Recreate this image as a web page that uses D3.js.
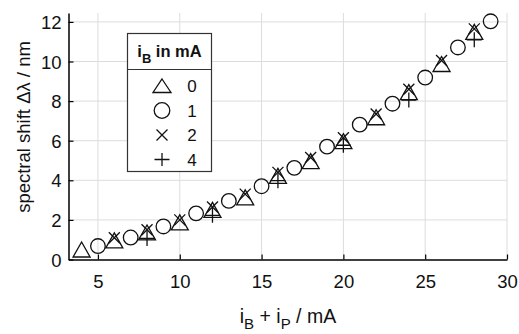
<!DOCTYPE html>
<html>
<head>
<meta charset="utf-8">
<script src="https://cdn.jsdelivr.net/npm/d3@7"></script>
<style>
  body { margin: 0; background: #fff; }
  svg { font-family: "Liberation Sans", Arial, sans-serif; }
</style>
</head>
<body>
<div id="chart"></div>
<script>
// data
const xTri = [4, 6, 8, 10, 12, 14, 16, 18, 20, 22, 24, 26, 28]
const yTri = [0.48, 0.94, 1.34, 1.85, 2.48, 3.11, 4.2, 4.94, 5.95, 7.16, 8.43, 9.85, 11.47]

const xCirc = [5, 7, 9, 11, 13, 15, 17, 19, 21, 23, 25, 27, 29]
const yCirc = [0.68, 1.11, 1.67, 2.33, 2.96, 3.7, 4.63, 5.7, 6.81, 7.87, 9.19, 10.71, 12.03]

const xCross = [6, 8, 10, 12, 14, 16, 18, 20, 22, 24, 26, 28]
const yCross = [1.1, 1.5, 2.0, 2.65, 3.3, 4.4, 5.15, 6.15, 7.35, 8.6, 10.05, 11.65]

const xPlus = [8, 12, 16, 20, 24, 28]
const yPlus = [1.06, 2.23, 3.98, 5.77, 8.05, 11.1]

const xTicks = [5, 10, 15, 20, 25, 30]
const yTicks = [0, 2, 4, 6, 8, 10, 12]
const legendLabels = ['0', '1', '2', '4']

const WIDTH = 519
const HEIGHT = 334

const svg = d3.select('#chart')
  .append('svg')
  .attr('width', WIDTH)
  .attr('height', HEIGHT)

const xScale = d3.scaleLinear().domain([3.2, 30]).range([68.5, 507])
const yScale = d3.scaleLinear().domain([0, 12.45]).range([259.5, 13])

// grid
svg.append('g')
  .selectAll('line')
  .data(xTicks)
  .enter()
  .append('line')
  .attr('x1', d => xScale(d)).attr('x2', d => xScale(d))
  .attr('y1', yScale.range()[0]).attr('y2', yScale.range()[1])
  .attr('stroke', '#dcdcdc')
  .attr('stroke-width', 1)

svg.append('g')
  .selectAll('line')
  .data(yTicks.slice(1))
  .enter()
  .append('line')
  .attr('x1', xScale.range()[0]).attr('x2', xScale.range()[1])
  .attr('y1', d => yScale(d)).attr('y2', d => yScale(d))
  .attr('stroke', '#dcdcdc')
  .attr('stroke-width', 1)

// axes
const xAxis = d3.axisBottom(xScale).tickValues(xTicks).tickSize(-5).tickPadding(15).tickSizeOuter(0)
const yAxis = d3.axisLeft(yScale).tickValues(yTicks).tickSize(-5).tickPadding(7).tickSizeOuter(0)

const gx = svg.append('g')
  .attr('transform', `translate(0,${yScale.range()[0]})`)
  .call(xAxis)
const gy = svg.append('g')
  .attr('transform', `translate(${xScale.range()[0]},0)`)
  .call(yAxis)

;[gx, gy].forEach(g => {
  g.select('.domain').attr('stroke', '#000').attr('stroke-width', 1.5)
  g.selectAll('.tick line').attr('stroke', '#000').attr('stroke-width', 1.2)
  g.selectAll('.tick text')
    .attr('fill', '#111')
    .style('font-size', '18.5px')
    .style('font-family', '"Liberation Sans", Arial, sans-serif')
})
gy.selectAll('.tick text').attr('dy', '0.36em')

// axis titles
const xt = svg.append('text')
  .attr('x', 288).attr('y', 323)
  .attr('text-anchor', 'middle')
  .attr('fill', '#111')
  .style('font-size', '19.5px')
xt.append('tspan').text('i')
xt.append('tspan').attr('dy', 6).style('font-size', '15px').text('B')
xt.append('tspan').attr('dy', -6).text(' + i')
xt.append('tspan').attr('dy', 6).style('font-size', '15px').text('P')
xt.append('tspan').attr('dy', -6).text(' / mA')

svg.append('text')
  .attr('transform', 'translate(30,127) rotate(-90)')
  .attr('text-anchor', 'middle')
  .attr('fill', '#111')
  .style('font-size', '18.5px')
  .text('spectral shift Δλ / nm')

// markers
const triPath = 'M0,-8 L8.5,7 L-8.5,7 Z'
const crossPath = 'M-5.5,-5.5 L5.5,5.5 M-5.5,5.5 L5.5,-5.5'
const plusPath = 'M-7.5,0 L7.5,0 M0,-7.5 L0,7.5'
const markStyle = sel => sel.attr('fill', 'none').attr('stroke', '#111').attr('stroke-width', 1.3)

const plot = svg.append('g')

plot.selectAll('.tri')
  .data(d3.zip(xTri, yTri))
  .enter()
  .append('path')
  .attr('class', 'tri')
  .attr('d', triPath)
  .attr('transform', d => `translate(${xScale(d[0])},${yScale(d[1])})`)
  .call(markStyle)

plot.selectAll('.circ')
  .data(d3.zip(xCirc, yCirc))
  .enter()
  .append('circle')
  .attr('class', 'circ')
  .attr('cx', d => xScale(d[0]))
  .attr('cy', d => yScale(d[1]))
  .attr('r', 7.3)
  .call(markStyle)

plot.selectAll('.cross')
  .data(d3.zip(xCross, yCross))
  .enter()
  .append('path')
  .attr('class', 'cross')
  .attr('d', crossPath)
  .attr('transform', d => `translate(${xScale(d[0])},${yScale(d[1])})`)
  .call(markStyle)

plot.selectAll('.plus')
  .data(d3.zip(xPlus, yPlus))
  .enter()
  .append('path')
  .attr('class', 'plus')
  .attr('d', plusPath)
  .attr('transform', d => `translate(${xScale(d[0])},${yScale(d[1])})`)
  .call(markStyle)

// legend
const legend = svg.append('g')
legend.append('rect')
  .attr('x', 127.5).attr('y', 33.5)
  .attr('width', 84).attr('height', 138)
  .attr('fill', '#fff')
  .attr('stroke', '#333')
  .attr('stroke-width', 1.2)
legend.append('line')
  .attr('x1', 127.5).attr('x2', 211.5)
  .attr('y1', 69.5).attr('y2', 69.5)
  .attr('stroke', '#333')
  .attr('stroke-width', 1.2)

const lt = legend.append('text')
  .attr('x', 169.5).attr('y', 57)
  .attr('text-anchor', 'middle')
  .attr('fill', '#111')
  .style('font-size', '16.5px')
  .style('font-weight', 'bold')
lt.append('tspan').text('i')
lt.append('tspan').attr('dy', 6).style('font-size', '13px').text('B')
lt.append('tspan').attr('dy', -6).text(' in mA')

const legendMarks = [
  g => g.append('path').attr('d', 'M0,-7 L9,6.5 L-9,6.5 Z'),
  g => g.append('circle').attr('r', 7.8),
  g => g.append('path').attr('d', 'M-5.5,-5.5 L5.5,5.5 M-5.5,5.5 L5.5,-5.5'),
  g => g.append('path').attr('d', 'M-7.5,0 L7.5,0 M0,-6.5 L0,6.5')
]

legendLabels.forEach((lab, i) => {
  const cy = 86 + i * 24.5
  const g = legend.append('g').attr('transform', `translate(162,${cy})`)
  legendMarks[i](g).call(markStyle)
  legend.append('text')
    .attr('x', 192).attr('y', cy)
    .attr('dy', '0.36em')
    .attr('text-anchor', 'middle')
    .attr('fill', '#111')
    .style('font-size', '17px')
    .text(lab)
})
</script>
</body>
</html>
